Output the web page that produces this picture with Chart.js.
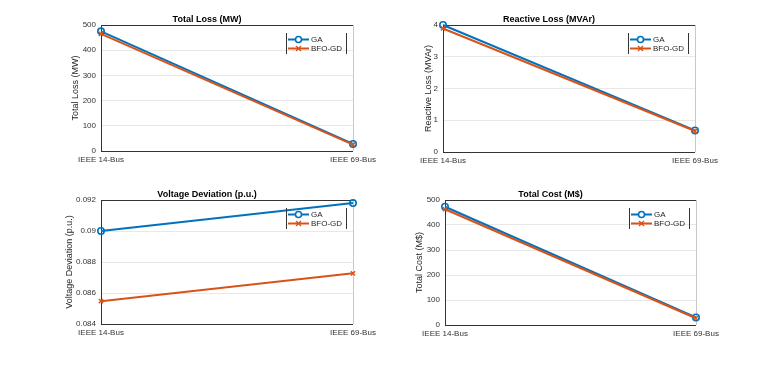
<!DOCTYPE html>
<html><head><meta charset="utf-8">
<script src="https://cdn.jsdelivr.net/npm/chart.js@4.4.1/dist/chart.umd.min.js"></script>
<style>
body{margin:0;background:#fff;width:779px;height:365px;overflow:hidden;position:relative;}
.w{position:absolute;}
</style></head><body>
<div class="w" id="w1"><canvas id="c1"></canvas></div>
<div class="w" id="w2"><canvas id="c2"></canvas></div>
<div class="w" id="w3"><canvas id="c3"></canvas></div>
<div class="w" id="w4"><canvas id="c4"></canvas></div>
<script>
const systems = ['IEEE 14-Bus', 'IEEE 69-Bus'];
const methods = ['GA', 'BFO-GD'];
const lossGA = [475, 28];
const lossBFO = [465, 25];
const reactiveGA = [4.0, 0.68];
const reactiveBFO = [3.89, 0.66];
const vdevGA = [0.0900, 0.0918];
const vdevBFO = [0.08547, 0.08727];
const costGA = [473, 30];
const costBFO = [463, 27];
const lossTicks = [0, 100, 200, 300, 400, 500];
const reactiveTicks = [0, 1, 2, 3, 4];
const vdevTicks = [0.084, 0.086, 0.088, 0.090, 0.092];
const costTicks = [0, 100, 200, 300, 400, 500];

const BLUE = '#0072BD', ORANGE = '#D95319';
const FONT = '"Liberation Sans", Arial, Helvetica, sans-serif';

const frame = {
  id: 'frame',
  beforeDatasetsDraw(chart) {
    const a = chart.chartArea, ctx = chart.ctx;
    ctx.save();
    ctx.lineWidth = 1;
    ctx.strokeStyle = '#c8c8c8';
    ctx.beginPath(); ctx.moveTo(Math.round(a.right)+0.5, a.top); ctx.lineTo(Math.round(a.right)+0.5, a.bottom); ctx.stroke();
    ctx.strokeStyle = '#333333';
    ctx.beginPath();
    ctx.moveTo(a.left, Math.round(a.top)+0.5); ctx.lineTo(a.right, Math.round(a.top)+0.5);
    ctx.moveTo(Math.round(a.left)+0.5, a.top); ctx.lineTo(Math.round(a.left)+0.5, a.bottom);
    ctx.moveTo(a.left, Math.round(a.bottom)+0.5); ctx.lineTo(a.right, Math.round(a.bottom)+0.5);
    ctx.stroke();
    ctx.restore();
  }
};

const mlegend = {
  id: 'mlegend',
  afterDatasetsDraw(chart) {
    const a = chart.chartArea, ctx = chart.ctx;
    const w = 60, h = 21;
    const x0 = Math.round(a.right - 7 - w), y0 = Math.round(a.top + 8);
    ctx.save();
    ctx.strokeStyle = '#333';
    ctx.lineWidth = 1;
    ctx.beginPath();
    ctx.moveTo(x0+0.5, y0); ctx.lineTo(x0+0.5, y0+h);
    ctx.moveTo(x0+w+0.5, y0); ctx.lineTo(x0+w+0.5, y0+h);
    ctx.stroke();
    const rows = [
      {label: methods[0], color: BLUE, style: 'circle'},
      {label: methods[1], color: ORANGE, style: 'x'}
    ];
    rows.forEach((r, i) => {
      const y = y0 + 6.5 + i * 9;
      ctx.strokeStyle = r.color;
      ctx.lineWidth = 2;
      ctx.beginPath(); ctx.moveTo(x0 + 2, y); ctx.lineTo(x0 + 23, y); ctx.stroke();
      const mx = x0 + 12.5;
      if (r.style === 'circle') {
        ctx.fillStyle = '#fff';
        ctx.lineWidth = 1.6;
        ctx.beginPath(); ctx.arc(mx, y, 3, 0, Math.PI * 2); ctx.fill(); ctx.stroke();
      } else {
        ctx.lineWidth = 1.4;
        ctx.beginPath();
        ctx.moveTo(mx-2.5, y-2.5); ctx.lineTo(mx+2.5, y+2.5);
        ctx.moveTo(mx+2.5, y-2.5); ctx.lineTo(mx-2.5, y+2.5);
        ctx.stroke();
      }
      ctx.fillStyle = '#262626';
      ctx.font = '8px ' + FONT;
      ctx.textBaseline = 'middle';
      ctx.textAlign = 'left';
      ctx.fillText(r.label, x0 + 25, y + 0.5);
    });
    ctx.restore();
  }
};

function place(id, plotLeft, plotTop, plotW, plotH) {
  const el = document.getElementById(id);
  el.style.left = (plotLeft - 40) + 'px';
  el.style.top = (plotTop - 25) + 'px';
  el.style.width = (plotW + 40 + 30) + 'px';
  el.style.height = (plotH + 25 + 20) + 'px';
}

function makeChart(canvasId, title, yTitle, ga, bfo, ticks, fmt, titlePad) {
  const min = ticks[0], max = ticks[ticks.length - 1];
  const step = ticks[1] - ticks[0];
  new Chart(document.getElementById(canvasId), {
    type: 'line',
    data: {
      labels: systems,
      datasets: [
        {label: methods[0], data: ga, borderColor: BLUE, backgroundColor: '#fff',
         borderWidth: 2, pointStyle: 'circle', pointRadius: 3.2, pointBorderWidth: 1.6,
         pointBackgroundColor: 'rgba(255,255,255,0)', pointBorderColor: BLUE, order: 1, clip: false, tension: 0},
        {label: methods[1], data: bfo, borderColor: ORANGE, backgroundColor: ORANGE,
         borderWidth: 2, pointStyle: 'crossRot', pointRadius: 3, pointBorderWidth: 1.4,
         pointBorderColor: ORANGE, order: 0, clip: false, tension: 0}
      ]
    },
    options: {
      responsive: true, maintainAspectRatio: false, animation: false,
      devicePixelRatio: 1,
      layout: {padding: {left: 0, right: 30, top: 0, bottom: 0}},
      plugins: {
        legend: {display: false}, tooltip: {enabled: false},
        title: {display: true, text: title, color: '#000',
          font: {family: FONT, size: 9, weight: 'bold', lineHeight: 1.2},
          padding: {top: 14.2, bottom: 0}}
      },
      scales: {
        x: {
          type: 'category', offset: false,
          grid: {display: false, drawTicks: false},
          border: {display: false},
          ticks: {color: '#333', font: {family: FONT, size: 8}, padding: 4, maxRotation: 0, autoSkip: false},
          afterFit(s) { s.height = 20; }
        },
        y: {
          min: min, max: max,
          grid: {color: '#e8e8e8', drawTicks: false, lineWidth: 1},
          border: {display: false},
          ticks: {stepSize: step, color: '#333', font: {family: FONT, size: 8}, padding: 5,
                  callback: v => fmt(v)},
          title: {display: true, text: yTitle, color: '#262626',
                  font: {family: FONT, size: 9, lineHeight: 1.2}, padding: {top: titlePad, bottom: 0}},
          afterFit(s) { s.width = 40; },
          afterBuildTicks(s) { s.ticks = ticks.map(v => ({value: v})); }
        }
      }
    },
    plugins: [frame, mlegend]
  });
}

place('w1', 101, 25, 252, 126);
place('w2', 443, 25, 252, 127);
place('w3', 101, 200, 252, 124);
place('w4', 445, 200, 251, 125);

const intFmt = v => String(Math.round(v));
const vFmt = v => String(Number(v.toFixed(3)));

makeChart('c1', 'Total Loss (MW)', 'Total Loss (MW)', lossGA, lossBFO, lossTicks, intFmt, 9.6);
makeChart('c2', 'Reactive Loss (MVAr)', 'Reactive Loss (MVAr)', reactiveGA, reactiveBFO, reactiveTicks, intFmt, 20.6);
makeChart('c3', 'Voltage Deviation (p.u.)', 'Voltage Deviation (p.u.)', vdevGA, vdevBFO, vdevTicks, vFmt, 3.6);
makeChart('c4', 'Total Cost (M$)', 'Total Cost (M$)', costGA, costBFO, costTicks, intFmt, 9.6);
</script>
</body></html>
